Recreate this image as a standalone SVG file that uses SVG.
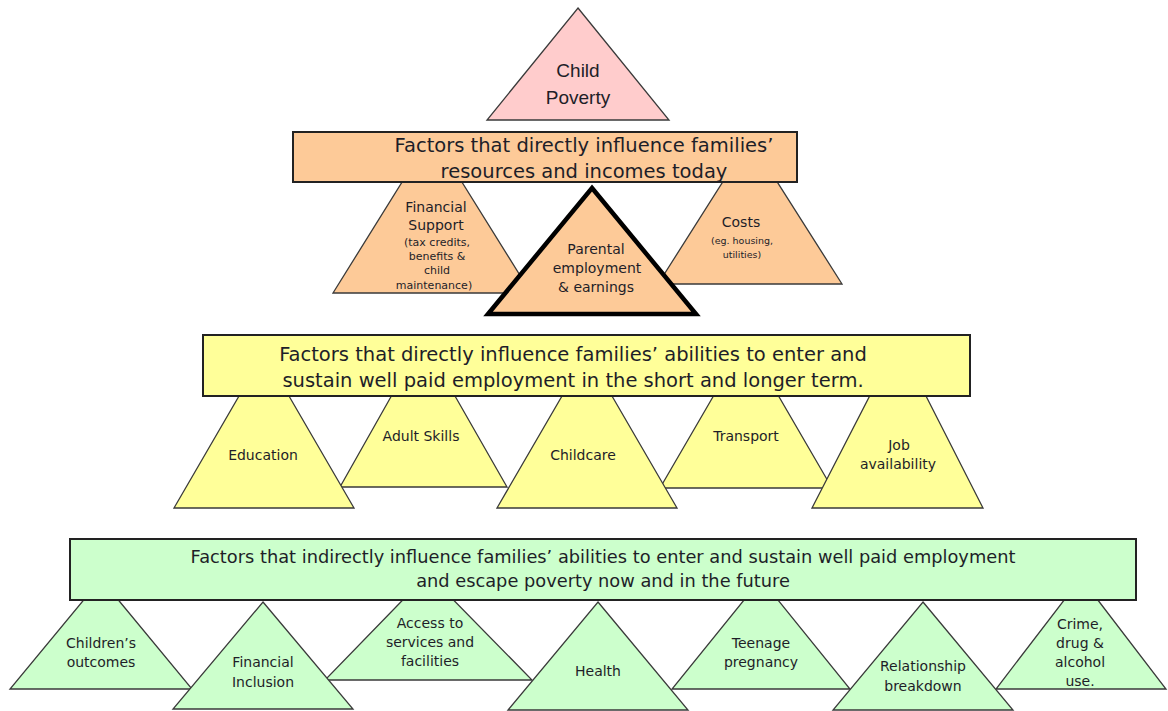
<svg xmlns="http://www.w3.org/2000/svg" width="1168" height="711" viewBox="0 0 1168 711">
<style>
  .tri { stroke: #3a3a3a; stroke-width: 1.3; stroke-linejoin: miter; }
  .box { stroke: #222; stroke-width: 2; }
  .pink { fill: #ffcccc; }
  .org { fill: #fdca98; }
  .yel { fill: #ffff99; }
  .grn { fill: #ccffcc; }
  text { font-family: "DejaVu Sans", Verdana, sans-serif; fill: #1e1e28; text-anchor: middle; }
  .hdr { font-size: 19.5px; }
  .hdrg { font-size: 17.8px; }
  .lbl { font-size: 14px; }
  .sm { font-size: 11px; }
  .sm2 { font-size: 9.5px; }
  .cp { font-family: "Liberation Sans", Arial, sans-serif; font-size: 19px; }
</style>
<rect width="1168" height="711" fill="#ffffff"/>

<g id="connectors"></g>

<!-- Level 1: orange -->
<g id="financial-support">
  <polygon class="tri org" points="432,134 531,293 333,293"/>
  <text class="lbl" x="436" y="212">Financial</text>
  <text class="lbl" x="436" y="230">Support</text>
  <text class="sm" x="437" y="246">(tax credits,</text>
  <text class="sm" x="437" y="260">benefits &amp;</text>
  <text class="sm" x="437" y="274">child</text>
  <text class="sm" x="434" y="289">maintenance)</text>
</g>
<g id="costs">
  <polygon class="tri org" points="750,139 842,284 658,284"/>
  <text class="lbl" x="741" y="227">Costs</text>
  <text class="sm2" x="742" y="244">(eg. housing,</text>
  <text class="sm2" x="742" y="258">utilities)</text>
</g>
<g id="box-resources">
  <rect class="box org" x="293" y="132" width="504" height="50"/>
  <text class="hdr" x="584" y="152">Factors that directly influence families’</text>
  <text class="hdr" x="584" y="178">resources and incomes today</text>
</g>
<g id="parental-employment">
  <polygon points="592,188 696,314 488,314" fill="#fdca98" stroke="#000" stroke-width="4.5" stroke-linejoin="miter"/>
  <text class="lbl" x="596" y="254">Parental</text>
  <text class="lbl" x="597" y="273">employment</text>
  <text class="lbl" x="596" y="292">&amp; earnings</text>
</g>
<g id="child-poverty">
  <polygon class="tri pink" points="578,8 669,120 487,120"/>
  <text class="cp" x="578" y="77">Child</text>
  <text class="cp" x="578" y="104">Poverty</text>
</g>

<!-- Level 2: yellow -->
<g id="adult-skills">
  <polygon class="tri yel" points="423,340 507,487 340,487"/>
  <text class="lbl" x="421" y="441">Adult Skills</text>
</g>
<g id="transport">
  <polygon class="tri yel" points="746,340 832,488 660,488"/>
  <text class="lbl" x="746" y="441">Transport</text>
</g>
<g id="education">
  <polygon class="tri yel" points="264,353 354,508 174,508"/>
  <text class="lbl" x="263" y="460">Education</text>
</g>
<g id="childcare">
  <polygon class="tri yel" points="587,353 677,508 497,508"/>
  <text class="lbl" x="583" y="460">Childcare</text>
</g>
<g id="job-availability">
  <polygon class="tri yel" points="898,341 983,508 812,508"/>
  <text class="lbl" x="899" y="450">Job</text>
  <text class="lbl" x="898" y="469">availability</text>
</g>
<g id="box-employment">
  <rect class="box yel" x="203" y="335" width="767" height="61"/>
  <text class="hdr" x="573" y="361">Factors that directly influence families’ abilities to enter and</text>
  <text class="hdr" x="573" y="387">sustain well paid employment in the short and longer term.</text>
</g>

<!-- Level 3: green -->
<g id="childrens-outcomes">
  <polygon class="tri grn" points="101,579 192,689 10,689"/>
  <text class="lbl" x="101" y="648">Children’s</text>
  <text class="lbl" x="101" y="667">outcomes</text>
</g>
<g id="access-services">
  <polygon class="tri grn" points="428,574 532,680 325,680"/>
  <text class="lbl" x="430" y="628">Access to</text>
  <text class="lbl" x="430" y="647">services and</text>
  <text class="lbl" x="430" y="666">facilities</text>
</g>
<g id="teenage-pregnancy">
  <polygon class="tri grn" points="761,579 850,689 672,689"/>
  <text class="lbl" x="761" y="648">Teenage</text>
  <text class="lbl" x="761" y="667">pregnancy</text>
</g>
<g id="crime-drug-alcohol">
  <polygon class="tri grn" points="1081,578 1166,689 996,689"/>
  <text class="lbl" x="1080" y="629">Crime,</text>
  <text class="lbl" x="1080" y="648">drug &amp;</text>
  <text class="lbl" x="1080" y="667">alcohol</text>
  <text class="lbl" x="1080" y="686">use.</text>
</g>
<g id="financial-inclusion">
  <polygon class="tri grn" points="263,602 353,709 173,709"/>
  <text class="lbl" x="263" y="667">Financial</text>
  <text class="lbl" x="263" y="687">Inclusion</text>
</g>
<g id="health">
  <polygon class="tri grn" points="598,602 688,710 508,710"/>
  <text class="lbl" x="598" y="676">Health</text>
</g>
<g id="relationship-breakdown">
  <polygon class="tri grn" points="923,602 1013,710 833,710"/>
  <text class="lbl" x="923" y="671">Relationship</text>
  <text class="lbl" x="923" y="691">breakdown</text>
</g>
<g id="box-indirect">
  <rect class="box grn" x="70" y="539" width="1066" height="61"/>
  <text class="hdrg" x="603" y="563">Factors that indirectly influence families’ abilities to enter and sustain well paid employment</text>
  <text class="hdrg" x="603" y="587">and escape poverty now and in the future</text>
</g>
</svg>
